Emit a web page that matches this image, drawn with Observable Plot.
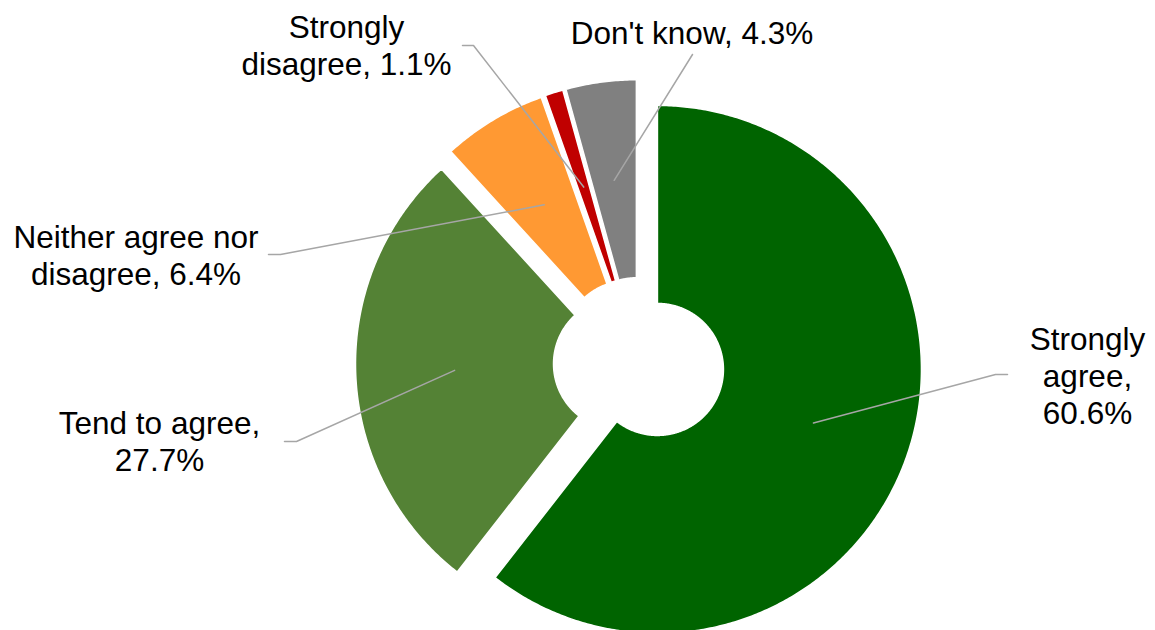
<!DOCTYPE html>
<html><head><meta charset="utf-8">
<script src="https://cdn.jsdelivr.net/npm/d3@7"></script>
<script src="https://cdn.jsdelivr.net/npm/@observablehq/plot@0.6"></script>
<style>html,body{margin:0;padding:0;background:#fff;} #chart svg{display:block;background:#fff}</style>
</head><body><div id="chart"></div>
<script>
// ---- data ----
const categories = ["Strongly agree", "Tend to agree", "Neither agree nor disagree", "Strongly disagree", "Don't know"];
const values = [60.6, 27.7, 6.4, 1.1, 4.3];
const colors = ["#006400", "#548235", "#FF9933", "#C00000", "#808080"];
// words per label line (wrapping)
const wrap = [[1, 1, 1], [3, 1], [3, 2], [1, 2], [3]];

// ---- layout ----
const W = 1155, H = 630;
const center = {x: 638.5, y: 362.6};
const R = 264, r = 66, explode = 19.5;
const labelPos = [{x: 1087, y: 349}, {x: 159, y: 433}, {x: 135.5, y: 247}, {x: 346, y: 37}, {x: 691.5, y: 43}];
const leaderBend = [[995, 374, 1007, 374], [296, 441, 284, 441], [280, 254, 268, 254], [473, 45, 462, 45], [692, 54, 692, 54]];
const lineGap = 37;
const fontSize = 31.5;

// ---- geometry from data ----
const total = d3.sum(values);
let acc = 0;
const slices = values.map((v, i) => {
  const a0 = acc / total * 2 * Math.PI;
  acc += v;
  const a1 = acc / total * 2 * Math.PI;
  const am = (a0 + a1) / 2;
  const cx = center.x + explode * Math.sin(am);
  const cy = center.y - explode * Math.cos(am);
  const n = Math.max(2, Math.ceil((a1 - a0) / (Math.PI / 360)));
  const pts = [];
  for (let k = 0; k <= n; k++) {
    const a = a0 + (a1 - a0) * k / n;
    pts.push({x: cx + R * Math.sin(a), y: cy - R * Math.cos(a)});
  }
  for (let k = n; k >= 0; k--) {
    const a = a0 + (a1 - a0) * k / n;
    pts.push({x: cx + r * Math.sin(a), y: cy - r * Math.cos(a)});
  }
  pts.push(pts[0]);
  const rm = (R + r) / 2;
  return {i, name: categories[i], value: v, color: colors[i], pts,
    start: {x: cx + rm * Math.sin(am), y: cy - rm * Math.cos(am)}};
});

const leaders = slices.flatMap((s, i) => [
  {id: i, x: s.start.x, y: s.start.y},
  {id: i, x: leaderBend[i][0], y: leaderBend[i][1]},
  {id: i, x: leaderBend[i][2], y: leaderBend[i][3]}
]);

const textRows = [];
categories.forEach((c, i) => {
  const words = `${c}, ${values[i]}%`.split(" ");
  let w = 0;
  wrap[i].forEach((cnt, li) => {
    textRows.push({x: labelPos[i].x, y: labelPos[i].y + li * lineGap, text: words.slice(w, w + cnt).join(" ")});
    w += cnt;
  });
});

const chart = Plot.plot({
  width: W, height: H, margin: 0,
  x: {domain: [0, W], axis: null},
  y: {domain: [0, H], reverse: true, axis: null},
  style: {fontFamily: "'Liberation Sans', Arial, sans-serif", background: "#fff"},
  marks: [
    ...slices.map(s => Plot.line(s.pts, {x: "x", y: "y", fill: s.color, stroke: "white", strokeWidth: 1.5, curve: "linear"})),
    Plot.line(leaders, {x: "x", y: "y", z: "id", stroke: "#A6A6A6", strokeWidth: 1.5}),
    Plot.text(textRows, {x: "x", y: "y", text: "text", fontSize, textAnchor: "middle", lineAnchor: "bottom", fill: "black"})
  ]
});
document.getElementById("chart").appendChild(chart);
</script>
</body></html>
